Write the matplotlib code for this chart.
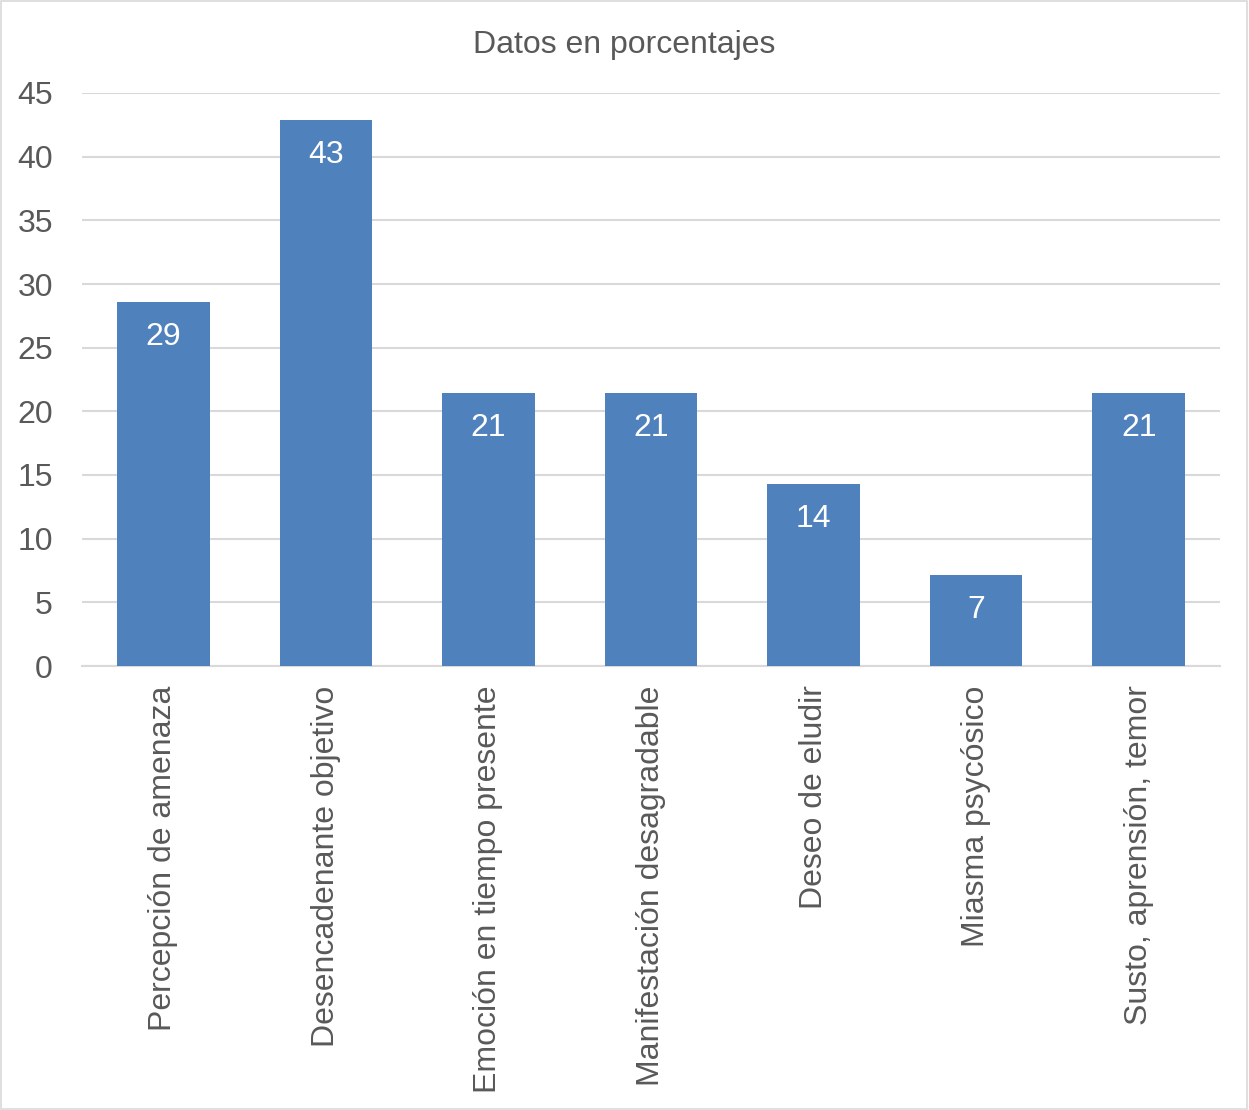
import matplotlib
matplotlib.use("Agg")
import matplotlib.pyplot as plt
from matplotlib.patches import Rectangle

categories = ["Percepción de amenaza", "Desencadenante objetivo", "Emoción en tiempo presente",
              "Manifestación desagradable", "Deseo de eludir", "Miasma psycósico",
              "Susto, aprensión, temor"]
values = [28.57, 42.86, 21.43, 21.43, 14.29, 7.14, 21.43]
labels = ["29", "43", "21", "21", "14", "7", "21"]
yticks = [0, 5, 10, 15, 20, 25, 30, 35, 40, 45]

plt.rcParams['font.family'] = ['Liberation Sans', 'DejaVu Sans']
txt = '#595959'
fs = 23

fig = plt.figure(figsize=(12.49, 11.10), dpi=100)
fig.patches.append(Rectangle((0.001, 0.001), 0.997, 0.998, transform=fig.transFigure,
                             fill=False, edgecolor='#D9D9D9', linewidth=1.2))
ax = fig.add_axes([82/1249, 1-666/1110, (1220-82)/1249, (666-93)/1110])

x = list(range(len(categories)))
bars = ax.bar(x, values, width=0.57, color='#4F81BD', zorder=3)
for xi, v, lab in zip(x, values, labels):
    ax.text(xi, v - 2.75, lab, ha='center', va='center', color='white', fontsize=fs, zorder=4)

ax.set_xlim(-0.5, len(categories) - 0.5)
ax.set_ylim(0, 45)
ax.set_yticks(yticks)
ax.set_yticklabels([str(t) for t in yticks], fontsize=fs, color=txt)
ax.set_xticks(x)
ax.set_xticklabels(categories, rotation=90, fontsize=fs, color=txt)
ax.tick_params(axis='both', length=0)
ax.tick_params(axis='y', pad=21)
ax.tick_params(axis='x', pad=14)
ax.grid(axis='y', color='#D9D9D9', linewidth=1.5, zorder=0)
for s in ['top', 'right', 'left']:
    ax.spines[s].set_visible(False)
ax.spines['bottom'].set_color('#D9D9D9')
ax.spines['bottom'].set_linewidth(1.5)

fig.text(0.5, 1-45/1110, "Datos en porcentajes", ha='center', va='center', fontsize=fs, color=txt)

fig.savefig("out.png", dpi=100)
